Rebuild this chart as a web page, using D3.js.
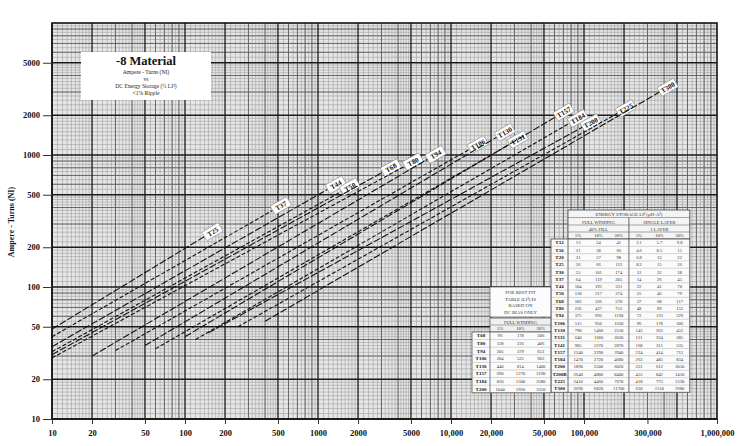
<!DOCTYPE html>
<html>
<head>
<meta charset="utf-8">
<script src="https://cdn.jsdelivr.net/npm/d3@7"></script>
<style>
  body { margin: 0; background: #ffffff; }
  svg text { font-family: "Liberation Serif", "DejaVu Serif", serif; }
</style>
</head>
<body>
<svg id="chart" width="752" height="446"></svg>
<script>
// ---- axis ticks ----
const xTicks = [10, 20, 50, 100, 200, 500, 1000, 2000, 5000, 10000, 20000, 50000, 100000, 300000, 1000000];
const xTickLabels = ["10", "20", "50", "100", "200", "500", "1000", "2000", "5000", "10,000", "20,000", "50,000", "100,000", "300,000", "1,000,000"];
const yTicks = [10, 20, 50, 100, 200, 500, 1000, 2000, 5000];
const yTickLabels = ["10", "20", "50", "100", "200", "500", "1000", "2000", "5000"];

// ---- core curves: NI vs energy, each a straight run on log-log paper ----
const cores       = ["T25", "T37", "T44", "T50", "T68", "T80", "T94", "T106", "T130", "T131", "T157", "T184", "T200", "T225", "T300"];
const startEnergy = [10, 10, 10, 10, 10, 10, 20, 30, 50, 60, 100, 120, 150, 250, 400];
const startNI     = [48, 42, 35.3, 32.3, 30.7, 29, 30, 33, 36, 34, 42, 40, 45, 50, 55];
const endEnergy   = [141, 459, 1189, 1514, 3080, 4510, 6710, 13900, 22200, 27800, 61500, 78500, 98000, 180000, 372000];
const endNI       = [242, 382, 551, 532, 743, 825, 933, 1110, 1370, 1210, 1950, 1750, 1630, 2080, 3010];

// ---- energy storage table ----
const tableTitle = "ENERGY STORAGE  LI²  (µH·A²)";
const tableGroups = ["FULL WINDING", "SINGLE LAYER"];
const tableSubGroups = ["40% FILL", "1 LAYER"];
const tableCols = ["5%", "10%", "20%", "5%", "10%", "20%"];
const tableCores = ["T12", "T16", "T20", "T25", "T30", "T37", "T44", "T50", "T68", "T80", "T94", "T106", "T130", "T131", "T141", "T157", "T184", "T200", "T200B", "T225", "T300"];
const col5Full   = [13, 21, 31, 36, 55, 64, 104, 118, 182, 236, 375, 515, 790, 640, 905, 1240, 1470, 1890, 2640, 2410, 3690];
const col10Full  = [24, 38, 57, 66, 101, 119, 193, 217, 336, 437, 693, 950, 1460, 1180, 1670, 2290, 2720, 3500, 4880, 4460, 6820];
const col20Full  = [41, 66, 98, 113, 174, 205, 331, 374, 578, 752, 1190, 1630, 2510, 2030, 2870, 3940, 4680, 6020, 8400, 7670, 11700];
const col5Layer  = [3.1, 4.6, 6.8, 8.2, 12, 14, 22, 25, 37, 48, 72, 96, 142, 121, 168, 224, 262, 331, 455, 418, 620];
const col10Layer = [5.7, 8.5, 13, 15, 22, 26, 41, 46, 68, 89, 133, 178, 263, 224, 311, 414, 485, 612, 842, 773, 1150];
const col20Layer = [9.8, 15, 22, 26, 38, 45, 70, 79, 117, 153, 229, 306, 452, 385, 535, 712, 834, 1050, 1450, 1330, 1980];

// ---- small note table ----
const noteLines = ["FOR BEST FIT", "TABLE (LI²) IS", "BASED ON", "DC BIAS ONLY"];
const smallHeader = "FULL WINDING";
const smallCols = ["5%", "10%", "20%"];
const smallCores = ["T68", "T80", "T94", "T106", "T130", "T157", "T184", "T200"];
const small5  = [96, 128, 205, 284, 440, 690, 810, 1040];
const small10 = [178, 236, 379, 525, 814, 1270, 1500, 1920];
const small20 = [306, 406, 652, 903, 1400, 2190, 2580, 3310];

// ---- layout ----
const svg = d3.select("#chart");
const plot = { left: 52, right: 717, top: 23, bottom: 419 };

const x = d3.scaleLog().domain([10, 1000000]).range([plot.left, plot.right]);
const y = d3.scaleLog().domain([10, 10000]).range([plot.bottom, plot.top]);

// log-paper rulings
const fineMant = d3.range(1.1, 1.99, 0.1).concat(d3.range(2.2, 4.99, 0.2), d3.range(5.5, 9.99, 0.5));
const midMant = [3, 4, 6, 7, 8, 9];

function ruling(exps, mants) {
  const out = [];
  exps.forEach(e => mants.forEach(m => out.push(m * Math.pow(10, e))));
  return out;
}
const xExps = [1, 2, 3, 4, 5];
const yExps = [1, 2, 3];

const grid = svg.append("g").attr("class", "grid");
function vLines(vals, stroke, w) {
  grid.selectAll(null).data(vals).enter().append("line")
    .attr("x1", d => x(d)).attr("x2", d => x(d))
    .attr("y1", plot.top).attr("y2", plot.bottom)
    .attr("stroke", stroke).attr("stroke-width", w);
}
function hLines(vals, stroke, w) {
  grid.selectAll(null).data(vals).enter().append("line")
    .attr("y1", d => y(d)).attr("y2", d => y(d))
    .attr("x1", plot.left).attr("x2", plot.right)
    .attr("stroke", stroke).attr("stroke-width", w);
}
grid.append("rect").attr("x", plot.left).attr("y", plot.top)
  .attr("width", plot.right - plot.left).attr("height", plot.bottom - plot.top)
  .attr("fill", "#e6e6e6");
vLines(ruling(xExps, fineMant), "#a0a0a0", 0.6);
hLines(ruling(yExps, fineMant), "#a0a0a0", 0.6);
vLines(ruling(xExps, midMant), "#5e5e5e", 0.9);
hLines(ruling(yExps, midMant), "#5e5e5e", 0.9);
vLines(ruling(xExps, [1, 2, 5]), "#1a1a1a", 1.3);
hLines(ruling(yExps, [1, 2, 5]), "#1a1a1a", 1.3);

// frame
svg.append("rect").attr("x", plot.left).attr("y", plot.top)
  .attr("width", plot.right - plot.left).attr("height", plot.bottom - plot.top)
  .attr("fill", "none").attr("stroke", "#111").attr("stroke-width", 1.6);

// axes
const xAxis = d3.axisBottom(x).tickValues(xTicks).tickFormat((d, i) => xTickLabels[i]).tickSize(5).tickPadding(6);
const yAxis = d3.axisLeft(y).tickValues(yTicks).tickFormat((d, i) => yTickLabels[i]).tickSize(9).tickPadding(3);
const gx = svg.append("g").attr("transform", `translate(0,${plot.bottom})`).call(xAxis);
const gy = svg.append("g").attr("transform", `translate(${plot.left},0)`).call(yAxis);
[gx, gy].forEach(g => {
  g.select(".domain").remove();
  g.selectAll(".tick line").attr("stroke", "#333").attr("stroke-width", 1);
  g.selectAll(".tick text").attr("fill", "#111").attr("font-size", 8.5).attr("font-weight", "bold")
    .attr("font-family", "'Liberation Serif', serif");
});

svg.append("text")
  .attr("transform", "translate(14,222) rotate(-90)")
  .attr("text-anchor", "middle").attr("font-size", 8).attr("font-weight", "bold").attr("fill", "#111")
  .text("Ampere - Turns (NI)");

// core lines
const curves = svg.append("g").attr("class", "curves");
cores.forEach((name, i) => {
  const x0 = x(startEnergy[i]), y0 = y(startNI[i]);
  const x1 = x(endEnergy[i]), y1 = y(endNI[i]);
  curves.append("line")
    .attr("x1", x0).attr("y1", y0).attr("x2", x1).attr("y2", y1)
    .attr("stroke", "#111").attr("stroke-width", 1.1)
    .attr("stroke-dasharray", i % 2 === 0 ? "7,2" : "4,2");

  const ang = Math.atan2(y1 - y0, x1 - x0);
  const cx = x1 + Math.cos(ang) * 9, cy = y1 + Math.sin(ang) * 9;
  const lab = curves.append("g")
    .attr("transform", `translate(${cx},${cy}) rotate(${ang * 180 / Math.PI})`);
  lab.append("rect").attr("x", -9.5).attr("y", -5).attr("width", 19).attr("height", 10)
    .attr("fill", "#fff").attr("stroke", "#888").attr("stroke-width", 0.6).attr("rx", 1);
  lab.append("text").attr("text-anchor", "middle").attr("dy", 2.6)
    .attr("font-size", 7).attr("font-weight", "bold").attr("fill", "#111").text(name);
});

// title box
const tb = svg.append("g");
tb.append("rect").attr("x", 81).attr("y", 52).attr("width", 130).attr("height", 48).attr("fill", "#fff");
tb.append("text").attr("x", 146).attr("y", 65).attr("text-anchor", "middle")
  .attr("font-size", 12.5).attr("font-weight", "bold").attr("fill", "#111").text("-8 Material");
[["Ampere - Turns (NI)", 74], ["vs", 81], ["DC Energy Storage (½ LI²)", 88], ["<1% Ripple", 95]].forEach(([t, yy]) => {
  tb.append("text").attr("x", 146).attr("y", yy).attr("text-anchor", "middle")
    .attr("font-size", 5.6).attr("fill", "#222").text(t);
});

// ---- big table ----
const bt = svg.append("g");
const btX = 551, btLabW = 17, btColW = 20.3, btTop = 210, btHead = 29, btRowH = 7.3;
const btData = [col5Full, col10Full, col20Full, col5Layer, col10Layer, col20Layer];
const btW = btLabW + btColW * 6;
const btBottom = btTop + btHead + btRowH * tableCores.length;
bt.append("rect").attr("x", btX + btLabW).attr("y", btTop).attr("width", btColW * 6).attr("height", btHead)
  .attr("fill", "#f4f4f4").attr("stroke", "#444").attr("stroke-width", 0.8);
bt.append("rect").attr("x", btX).attr("y", btTop + btHead).attr("width", btW).attr("height", btRowH * tableCores.length)
  .attr("fill", "#fbfbfb").attr("stroke", "#444").attr("stroke-width", 0.8);
const hx = btX + btLabW;
bt.append("text").attr("x", hx + btColW * 3).attr("y", btTop + 6).attr("text-anchor", "middle")
  .attr("font-size", 4.8).attr("fill", "#333").text(tableTitle);
bt.append("line").attr("x1", hx).attr("x2", hx + btColW * 6).attr("y1", btTop + 7.5).attr("y2", btTop + 7.5).attr("stroke", "#555").attr("stroke-width", 0.5);
tableGroups.forEach((g, k) => {
  bt.append("text").attr("x", hx + btColW * (1.5 + 3 * k)).attr("y", btTop + 13.5).attr("text-anchor", "middle")
    .attr("font-size", 4.6).attr("fill", "#333").text(g);
  bt.append("text").attr("x", hx + btColW * (1.5 + 3 * k)).attr("y", btTop + 20.5).attr("text-anchor", "middle")
    .attr("font-size", 4.6).attr("fill", "#333").text(tableSubGroups[k]);
});
[15, 22].forEach(o => bt.append("line").attr("x1", hx).attr("x2", hx + btColW * 6)
  .attr("y1", btTop + o).attr("y2", btTop + o).attr("stroke", "#555").attr("stroke-width", 0.5));
bt.append("line").attr("x1", hx + btColW * 3).attr("x2", hx + btColW * 3).attr("y1", btTop + 7.5).attr("y2", btBottom)
  .attr("stroke", "#444").attr("stroke-width", 0.8);
bt.append("line").attr("x1", hx).attr("x2", hx).attr("y1", btTop + btHead).attr("y2", btBottom)
  .attr("stroke", "#444").attr("stroke-width", 0.8);
tableCols.forEach((c, k) => {
  bt.append("text").attr("x", hx + btColW * (k + 0.5)).attr("y", btTop + 27).attr("text-anchor", "middle")
    .attr("font-size", 4.6).attr("fill", "#333").text(c);
});
tableCores.forEach((c, r) => {
  const ry = btTop + btHead + btRowH * r;
  bt.append("text").attr("x", btX + btLabW / 2).attr("y", ry + 5.3).attr("text-anchor", "middle")
    .attr("font-size", 5).attr("font-weight", "bold").attr("fill", "#111").text(c);
  bt.append("line").attr("x1", btX).attr("x2", btX + btW).attr("y1", ry + btRowH).attr("y2", ry + btRowH)
    .attr("stroke", "#999").attr("stroke-width", 0.4);
  btData.forEach((col, k) => {
    bt.append("text").attr("x", hx + btColW * (k + 0.5)).attr("y", ry + 5.3).attr("text-anchor", "middle")
      .attr("font-size", 4.6).attr("fill", "#333").text(col[r]);
  });
});

// ---- small table ----
const st = svg.append("g");
const stX = 472, stLabW = 18, stColW = 20.3, stNoteTop = 287, stHeadTop = 318, stRowTop = 332, stRowH = 7.6;
const stData = [small5, small10, small20];
st.append("rect").attr("x", stX + stLabW).attr("y", stNoteTop).attr("width", stColW * 3).attr("height", 30)
  .attr("fill", "#fcfcfc").attr("stroke", "#555").attr("stroke-width", 0.7);
noteLines.forEach((t, k) => {
  st.append("text").attr("x", stX + stLabW + stColW * 1.5).attr("y", stNoteTop + 7 + k * 6.6).attr("text-anchor", "middle")
    .attr("font-size", 4.8).attr("fill", "#333").text(t);
});
st.append("rect").attr("x", stX + stLabW).attr("y", stHeadTop).attr("width", stColW * 3).attr("height", stRowTop - stHeadTop)
  .attr("fill", "#efefef").attr("stroke", "#444").attr("stroke-width", 0.7);
st.append("text").attr("x", stX + stLabW + stColW * 1.5).attr("y", stHeadTop + 5.5).attr("text-anchor", "middle")
  .attr("font-size", 4.6).attr("fill", "#333").text(smallHeader);
st.append("line").attr("x1", stX + stLabW).attr("x2", stX + stLabW + stColW * 3).attr("y1", stHeadTop + 7).attr("y2", stHeadTop + 7)
  .attr("stroke", "#555").attr("stroke-width", 0.5);
smallCols.forEach((c, k) => {
  st.append("text").attr("x", stX + stLabW + stColW * (k + 0.5)).attr("y", stHeadTop + 12.3).attr("text-anchor", "middle")
    .attr("font-size", 4.6).attr("fill", "#333").text(c);
});
st.append("rect").attr("x", stX).attr("y", stRowTop).attr("width", stLabW + stColW * 3).attr("height", stRowH * smallCores.length)
  .attr("fill", "#fbfbfb").attr("stroke", "#444").attr("stroke-width", 0.7);
st.append("line").attr("x1", stX + stLabW).attr("x2", stX + stLabW).attr("y1", stRowTop).attr("y2", stRowTop + stRowH * smallCores.length)
  .attr("stroke", "#444").attr("stroke-width", 0.7);
smallCores.forEach((c, r) => {
  const ry = stRowTop + stRowH * r;
  st.append("text").attr("x", stX + stLabW / 2).attr("y", ry + 5.4).attr("text-anchor", "middle")
    .attr("font-size", 5).attr("font-weight", "bold").attr("fill", "#111").text(c);
  st.append("line").attr("x1", stX).attr("x2", stX + stLabW + stColW * 3).attr("y1", ry + stRowH).attr("y2", ry + stRowH)
    .attr("stroke", "#999").attr("stroke-width", 0.4);
  stData.forEach((col, k) => {
    st.append("text").attr("x", stX + stLabW + stColW * (k + 0.5)).attr("y", ry + 5.4).attr("text-anchor", "middle")
      .attr("font-size", 4.6).attr("fill", "#333").text(col[r]);
  });
});
</script>
</body>
</html>
